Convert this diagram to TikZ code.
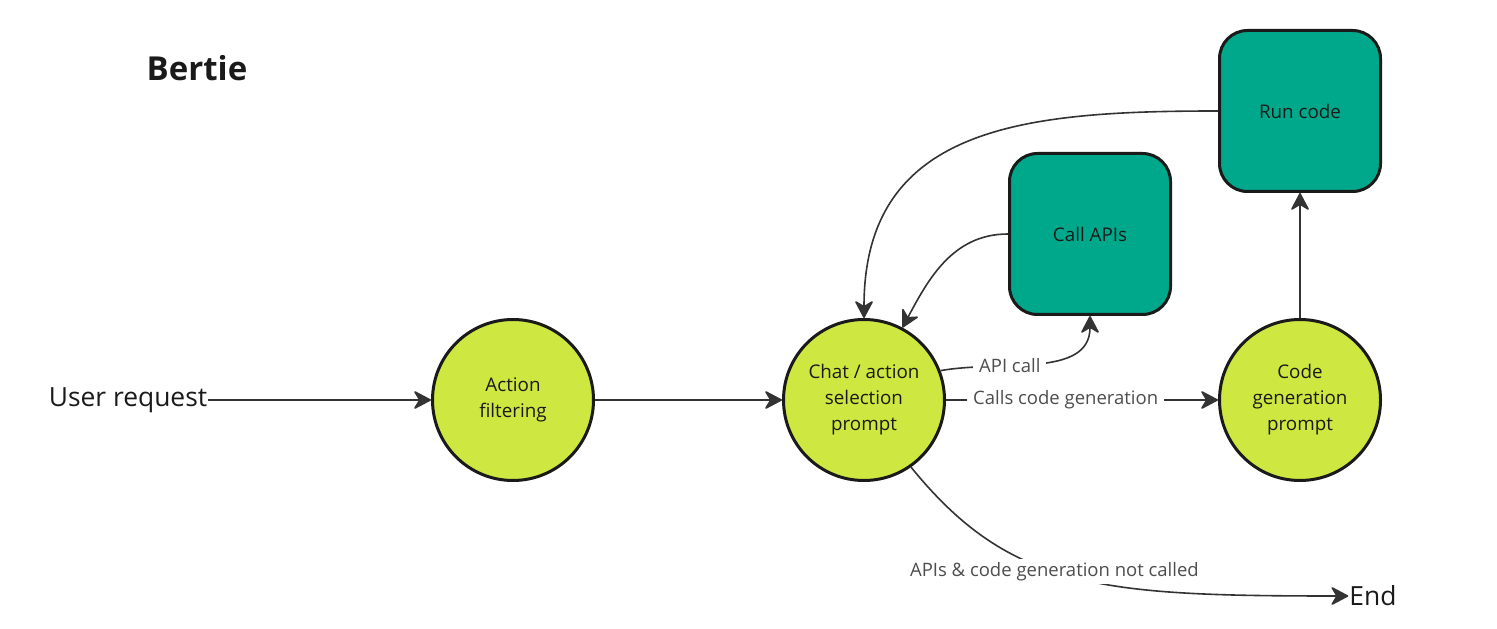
\documentclass[tikz,border=0pt]{standalone}
\usepackage{fontspec}
\setmainfont{Open Sans}
\usepackage{tikz}
\usetikzlibrary{arrows.meta,positioning}
\definecolor{stagefill}{HTML}{CEE741}
\definecolor{toolfill}{HTML}{00A88B}
\definecolor{ink}{HTML}{1A1A1A}
\definecolor{wirecol}{HTML}{333333}
\definecolor{note}{HTML}{4D4D4D}

\begin{document}
\begin{tikzpicture}[x=1pt,y=1pt,
  stage/.style={circle,draw=ink,line width=3pt,fill=stagefill,minimum size=161pt,
                align=center,text=ink,font=\fontsize{18.8}{26}\selectfont},
  tool/.style={rectangle,rounded corners=28pt,draw=ink,line width=3pt,fill=toolfill,
               minimum size=161pt,text=ink,font=\fontsize{18.8}{26}\selectfont},
  wire/.style={draw=wirecol,line width=1.6pt,-{Stealth[length=19pt,width=20pt,inset=6pt,round]}},
  lbl/.style={fill=white,text=note,font=\fontsize{18.5}{22}\selectfont,inner xsep=6pt,inner ysep=3pt}]
  \useasboundingbox (0,0) rectangle (1497,629);
  % title
  \node[font=\bfseries\fontsize{33}{40}\selectfont,text=ink] (title) at (197,561) {Bertie};
  % stages
  \node[font=\fontsize{26.4}{32}\selectfont,text=ink,inner sep=1pt] (user) at (128,229) {User request};
  \node[stage] (filter) at (513,229) {Action\\filtering};
  \node[stage] (chat) at (864,229) {Chat / action\\selection\\prompt};
  \node[stage] (codegen) at (1300,229) {Code\\generation\\prompt};
  \node[font=\fontsize{26.4}{32}\selectfont,text=ink,inner sep=1pt] (end) at (1373,33) {End};
  % tools
  \node[tool] (apis) at (1090,395) {Call APIs};
  \node[tool] (run) at (1300,518) {Run code};
  % connectors
  \draw[wire] (user) -- (filter);
  \draw[wire] (filter) -- (chat);
  \draw[wire] (chat) -- node[lbl,pos=0.44]{Calls code generation} (codegen);
  \draw[wire] (chat.21) to[out=10,in=-90] node[lbl,pos=0.35]{API call} (apis.south);
  \draw[wire] (apis.west) to[out=180,in=62] (chat.62);
  \draw[wire] (run.west) to[out=180,in=90,looseness=1.2] (chat.north);
  \draw[wire] (codegen) -- (run);
  \draw[wire] (chat.-55) .. controls (1010,40) and (1100,33) ..
    node[lbl,pos=0.45]{APIs \& code generation not called} (end.west);
\end{tikzpicture}
\end{document}
